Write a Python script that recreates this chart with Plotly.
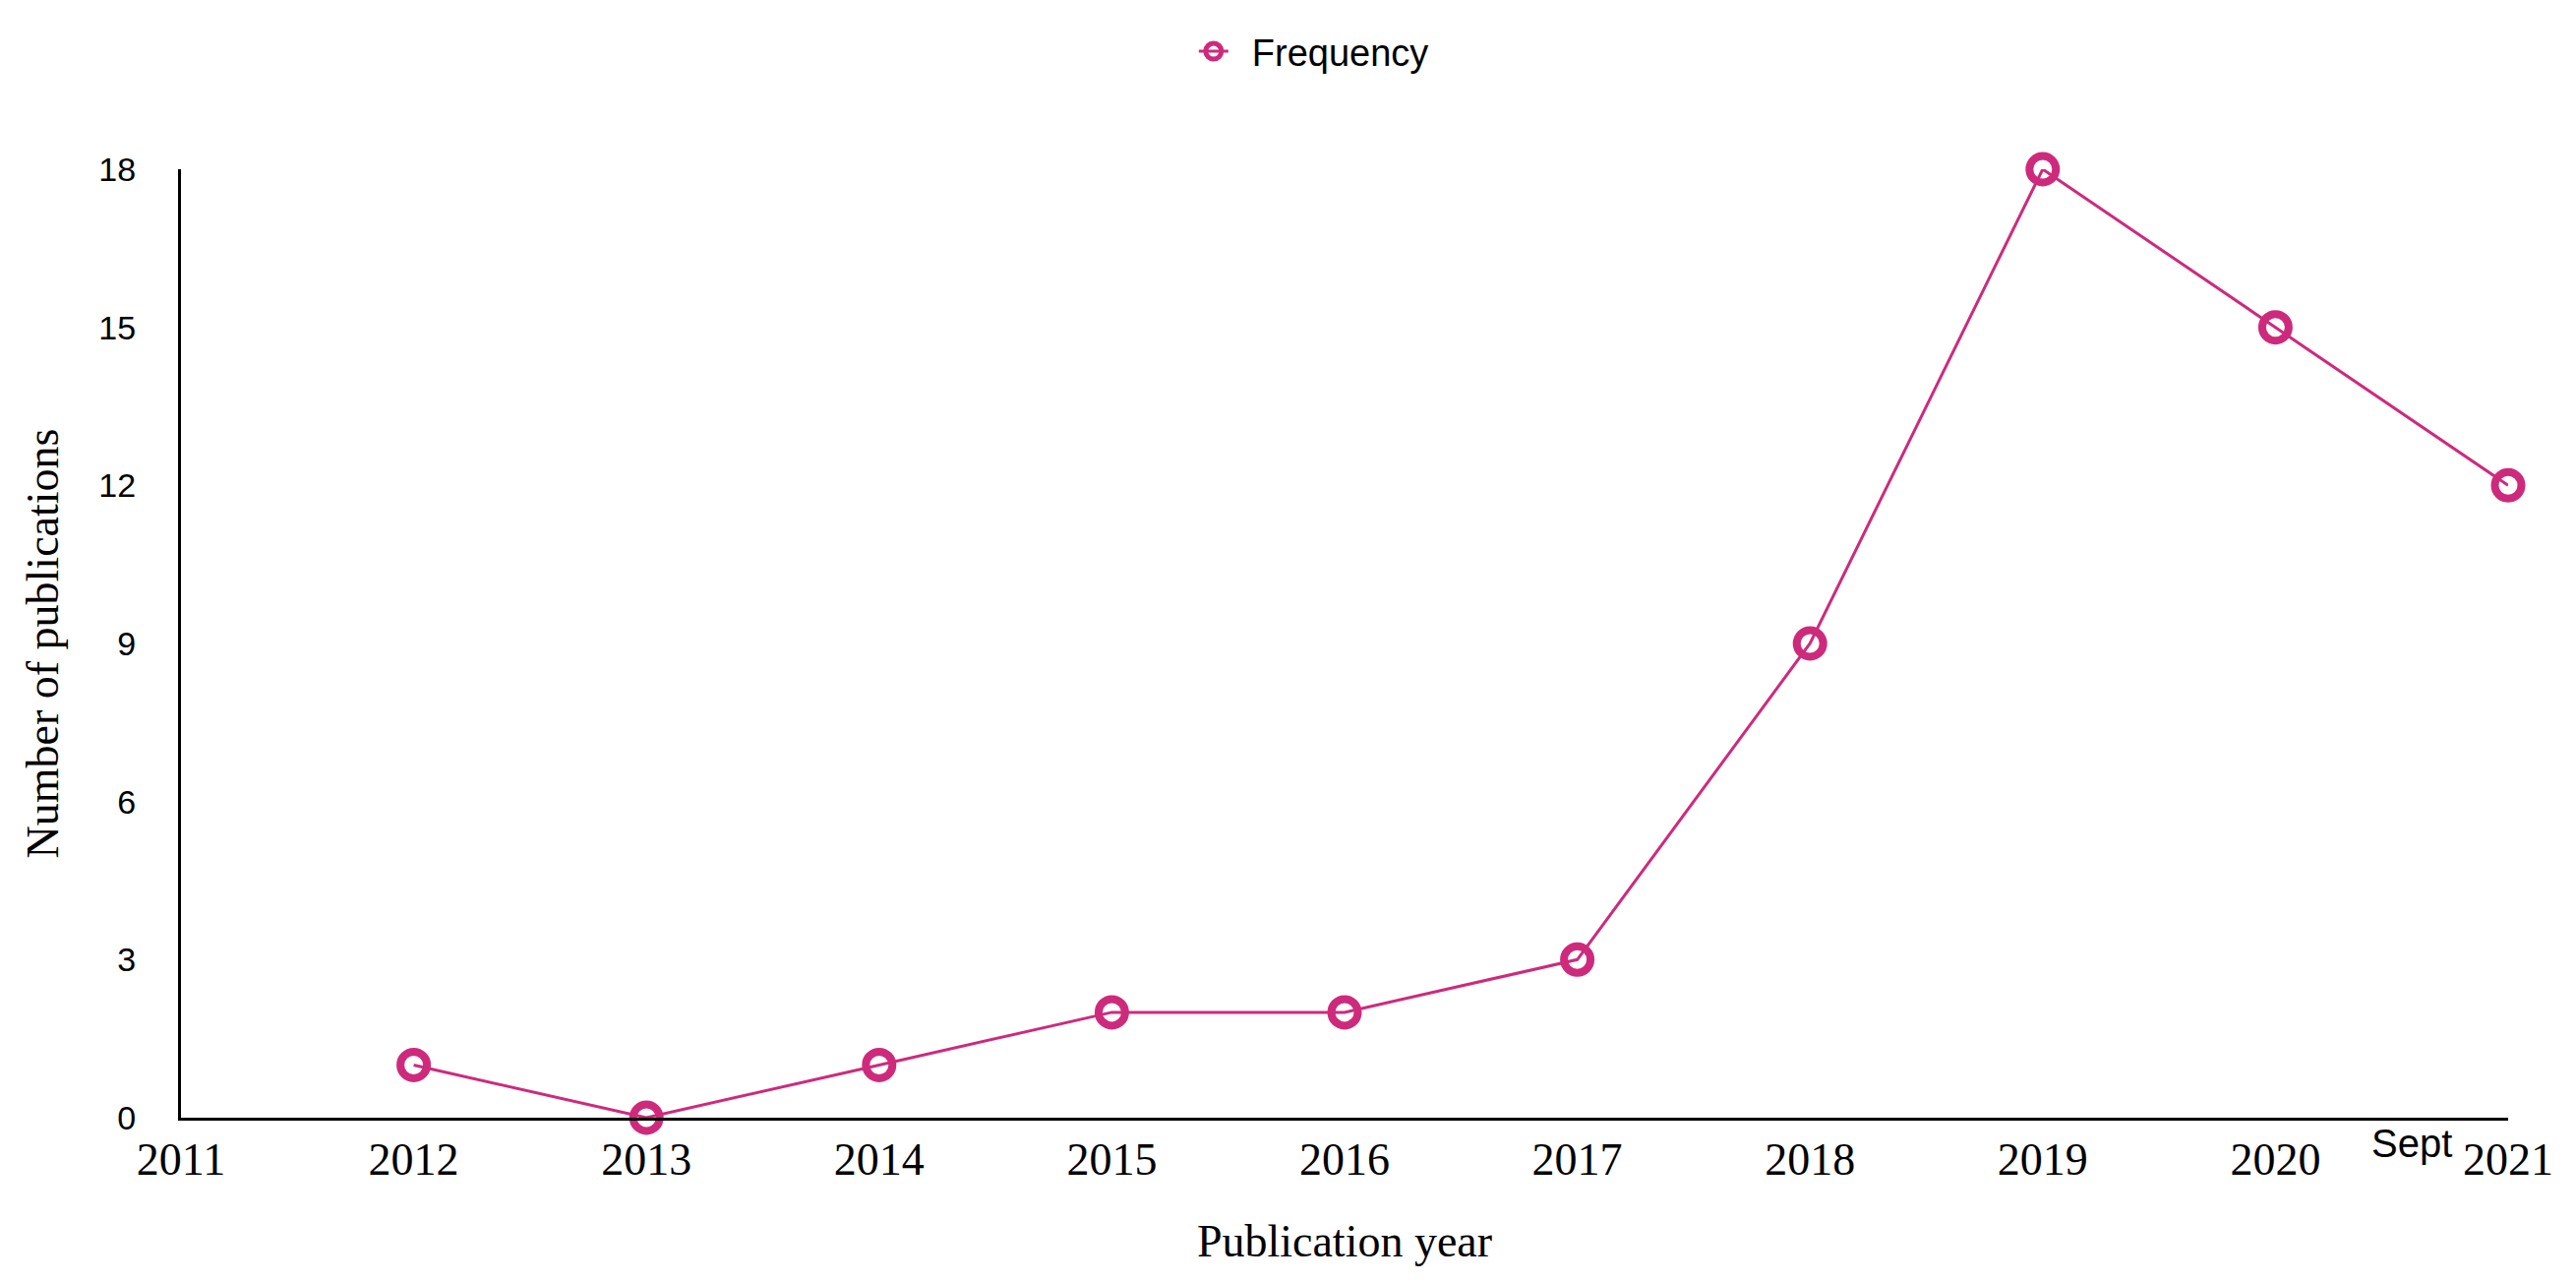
import plotly.graph_objects as go

# publication counts per year (2021 = up to September)
years = [2012, 2013, 2014, 2015, 2016, 2017, 2018, 2019, 2020, 2021]
counts = [1, 0, 1, 2, 2, 3, 9, 18, 15, 12]
x_ticks = [2011, 2012, 2013, 2014, 2015, 2016, 2017, 2018, 2019, 2020, 2021]
y_ticks = [0, 3, 6, 9, 12, 15, 18]

pink = "#CE2A7C"
serif = "Liberation Serif, Times New Roman, serif"
sans = "Liberation Sans, Arial, sans-serif"

fig = go.Figure()

fig.add_trace(
    go.Scatter(
        x=years,
        y=counts,
        mode="lines+markers",
        name="\u2002Frequency",
        line=dict(color=pink, width=3),
        marker=dict(symbol="circle-open", size=27, color=pink, line=dict(width=8, color=pink)),
        cliponaxis=False,
    )
)

# "Sept" note next to the last tick
fig.add_annotation(
    text="Sept",
    x=2021,
    y=0,
    xref="x",
    yref="y",
    xanchor="right",
    yanchor="top",
    xshift=-55,
    yshift=-2,
    showarrow=False,
    font=dict(family=sans, size=40, color="black"),
)

fig.update_layout(
    width=2619,
    height=1304,
    margin=dict(l=176, r=77, t=164, b=176),
    plot_bgcolor="white",
    paper_bgcolor="white",
    showlegend=True,
    legend=dict(
        orientation="h",
        xref="container",
        yref="container",
        x=0.507,
        xanchor="center",
        y=0.966,
        yanchor="middle",
        itemwidth=30,
        font=dict(family=sans, size=38, color="black"),
    ),
)

fig.update_xaxes(
    range=[2011, 2021],
    tickvals=x_ticks,
    ticktext=[str(t) for t in x_ticks],
    showgrid=False,
    zeroline=False,
    showline=True,
    linecolor="black",
    linewidth=3,
    ticks="",
    automargin=False,
    tickfont=dict(family=serif, size=46, color="black"),
    title=dict(text="Publication year", font=dict(family=serif, size=46, color="black"), standoff=42),
)

fig.update_yaxes(
    range=[0, 18],
    tickvals=y_ticks,
    showgrid=False,
    zeroline=False,
    showline=True,
    linecolor="black",
    linewidth=3,
    ticks="",
    automargin=False,
    ticklabelstandoff=36,
    tickfont=dict(family=sans, size=34, color="black"),
    title=dict(text="Number of publications", font=dict(family=serif, size=46, color="black"), standoff=27),
)

fig.write_html("out.html")
